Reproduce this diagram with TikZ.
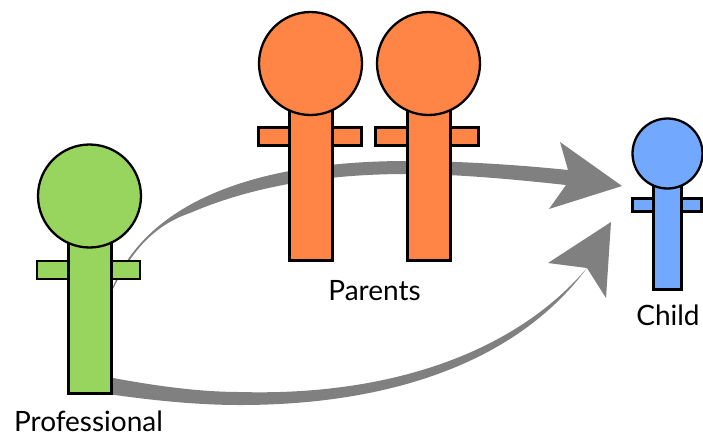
\documentclass[tikz,border=0pt]{standalone}
\usepackage{fontspec}
\setmainfont{Lato}
\definecolor{profgreen}{HTML}{97D55F}
\definecolor{parentorange}{HTML}{FF8547}
\definecolor{childblue}{HTML}{72A9FF}
\definecolor{flowgray}{HTML}{808080}
\tikzset{
  part/.style={draw=black, line width=2.3pt, inner sep=0pt, outer sep=0pt},
  head/.style={part, circle},
  block/.style={part, rectangle},
  caption/.style={inner sep=0pt, anchor=base, font=\fontsize{28}{30}\selectfont},
}
\begin{document}
\begin{tikzpicture}[x=1pt, y=-1pt]
    \useasboundingbox (0,0) rectangle (703,437);

    % upper arrow
    \coordinate (U1) at (108,300);
    \coordinate (U2) at (407,161);
    \coordinate (U3) at (568,170);
    \coordinate (U4) at (566,185);
    \coordinate (U5) at (407,174);
    \coordinate (U6) at (190,213);
    \fill[flowgray] (U1) .. controls (140,200) and (260,161) .. (U2)
        .. controls (460,161) and (520,165) .. (U3)
        -- (560,142) -- (622,186) -- (549,209) -- (U4)
        .. controls (520,180) and (460,174) .. (U5)
        .. controls (330,174) and (255,185) .. (U6)
        .. controls (155,225) and (130,250) .. (U1) -- cycle;

    % lower arrow
    \coordinate (L1) at (108,377);
    \coordinate (L2) at (240,392);
    \coordinate (L3) at (587,268);
    \coordinate (L4) at (240,405);
    \coordinate (L5) at (108,394);
    \fill[flowgray] (L1) .. controls (155,386) and (200,392) .. (L2)
        .. controls (380,396) and (510,358) .. (L3)
        -- (548,263) -- (611,222) -- (606,298) -- (L3)
        .. controls (515,365) and (385,405) .. (L4)
        .. controls (195,405) and (150,400) .. (L5) -- cycle;

    % professional
    \node[block, fill=profgreen, minimum width=103, minimum height=18] (profarms) at (88.5,270) {};
    \node[block, fill=profgreen, minimum width=43, minimum height=160] (profbody) at (90,313.5) {};
    \node[head, fill=profgreen, minimum size=103] (profhead) at (89.5,196) {};
    \node[caption] (proflabel) at (88.5,431) {Professional};

    % parents
    \node[block, fill=parentorange, minimum width=103, minimum height=18] (momarms) at (310,136.5) {};
    \node[block, fill=parentorange, minimum width=43, minimum height=160] (mombody) at (311,180.5) {};
    \node[head, fill=parentorange, minimum size=103] (momhead) at (310.5,63.5) {};

    \node[block, fill=parentorange, minimum width=103, minimum height=18] (dadarms) at (427,136.5) {};
    \node[block, fill=parentorange, minimum width=43, minimum height=160] (dadbody) at (429,180.5) {};
    \node[head, fill=parentorange, minimum size=103] (dadhead) at (428.5,63.5) {};

    \node[caption] (parentlabel) at (374.5,300) {Parents};

    % child
    \node[block, fill=childblue, minimum width=69, minimum height=13] (childarms) at (667,205) {};
    \node[block, fill=childblue, minimum width=28, minimum height=110] (childbody) at (667.5,234.5) {};
    \node[head, fill=childblue, minimum size=70] (childhead) at (667.5,153.5) {};
    \node[caption] (childlabel) at (668,325) {Child};
\end{tikzpicture}
\end{document}
